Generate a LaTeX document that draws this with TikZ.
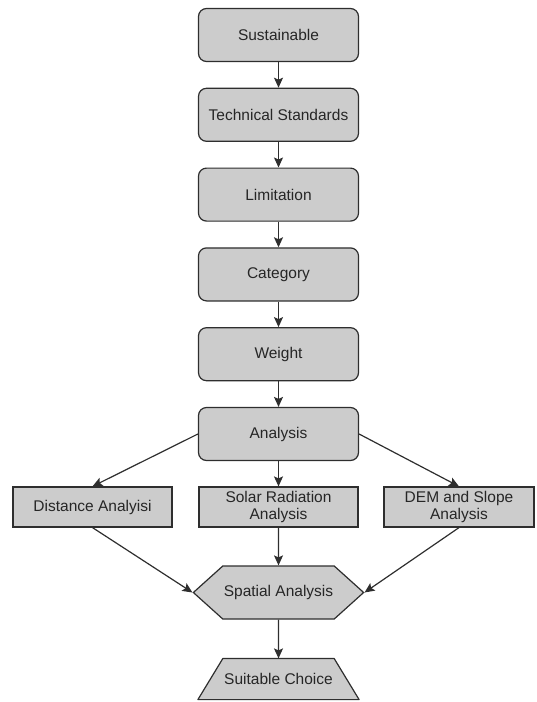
\documentclass[tikz,border=0pt]{standalone}
\usepackage{fontspec}
\setmainfont{Liberation Sans}
\usetikzlibrary{positioning,shapes.symbols,arrows.meta,backgrounds}
\definecolor{boxgray}{HTML}{CCCCCC}
\definecolor{linegray}{HTML}{2E2E2E}

\begin{document}
\begin{tikzpicture}[-{Stealth[length=10pt,width=9pt,inset=2pt]},line width=1.2pt,color=linegray,text=black!85,on grid,node distance=79.8pt,
	stage/.style={rectangle,rounded corners=8pt,draw,fill=boxgray,minimum width=160pt,minimum height=53pt,font=\fontsize{15.5}{17.5}\selectfont},
	method/.style={rectangle,draw,fill=boxgray,minimum width=159pt,minimum height=40pt,inner sep=1pt,align=center,font=\fontsize{15.5}{17.5}\selectfont},
	merge/.style={signal,signal to=west and east,signal pointer angle=84,draw,fill=boxgray,minimum width=159pt,minimum height=53pt,inner sep=1pt,font=\fontsize{15.5}{17.5}\selectfont},
	result/.style={rectangle,minimum width=160pt,minimum height=40pt,inner sep=1pt,font=\fontsize{15.5}{17.5}\selectfont}]
	\useasboundingbox (0,0) rectangle (536pt,-702pt);
	\node[stage] (sustain) at (278.5pt,-35pt) {Sustainable};
	\node[stage] (standards) [below=of sustain] {Technical Standards};
	\node[stage] (limit) [below=of standards] {Limitation};
	\node[stage] (category) [below=of limit] {Category};
	\node[stage] (weight) [below=of category] {Weight};
	\node[stage] (analysis) [below=of weight] {Analysis};
	\node[method] (solar) [below=73pt of analysis] {Solar Radiation\\Analysis};
	\node[method] (distance) [left=186pt of solar] {Distance Analyisi};
	\node[method,minimum width=150pt] (dem) [right=180.5pt of solar] {DEM and Slope\\Analysis};
	\node[merge] (spatial) [below=85.5pt of solar] {Spatial Analysis};
	\node[result] (choice) [below=86.5pt of spatial] {Suitable Choice};
	% trapezoid outline behind the last node
	\begin{scope}[on background layer]
	\path[-,draw=linegray,fill=boxgray,line width=1.2pt,line join=round] (choice.south west) -- ([xshift=25pt]choice.north west)
		-- ([xshift=-25pt]choice.north east) -- (choice.south east) -- cycle;
	\end{scope}
    \path
    (sustain) edge (standards)
    (standards) edge (limit)
    (limit) edge (category)
    (category) edge (weight)
    (weight) edge (analysis)
    (analysis.west) edge (distance.north)
    (analysis) edge (solar)
    (analysis.east) edge (dem.north)
    (distance.south) edge (spatial.west)
    (solar) edge (spatial)
    (dem.south) edge (spatial.east)
    (spatial) edge (choice)
          ;
\end{tikzpicture}
\end{document}
